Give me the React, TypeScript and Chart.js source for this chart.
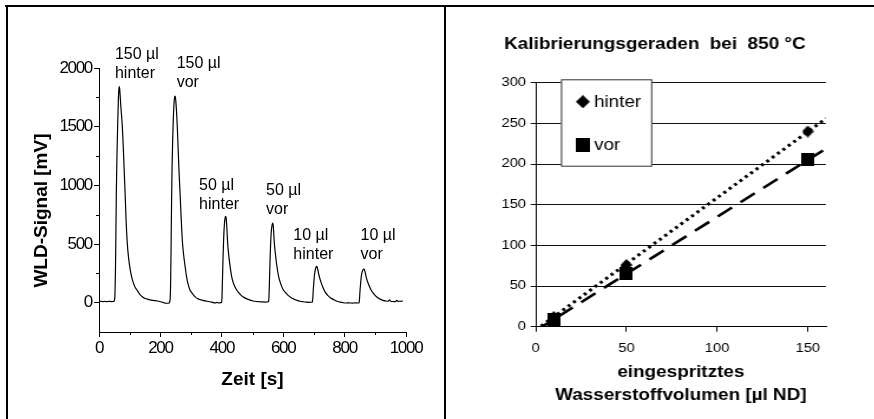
import React, { useEffect, useRef } from "react";
import { Chart, registerables } from "chart.js";

Chart.register(...registerables);

const FONT = "'Liberation Sans', Arial, Helvetica, sans-serif";
const STRETCH = 1.18;

// ---------- left panel: detector trace ----------
const SIGNAL_TIME = [
  0, 5, 10, 15, 20, 25, 30, 35, 40, 45, 49,
  51, 52, 53.5, 55, 56.5, 58, 60, 61.5, 63, 64.5, 66, 67.5, 69, 71, 73, 76, 79, 82, 85, 88, 92, 96, 100, 106, 113, 118, 123, 129, 135, 142, 150, 160, 170, 180, 190, 200, 208, 215, 222, 228,
  230, 232, 233.5, 235, 236.5, 238, 240, 242, 244, 246, 248, 249.5, 251, 253, 255, 258, 261, 264, 268, 272, 276, 280, 285, 290, 296, 302, 308, 315, 323, 332, 342, 352, 362, 370, 378, 385, 390, 396,
  399, 400.5, 402, 404, 406, 408, 410, 412, 414, 416, 419, 422, 426, 432, 438, 443, 448, 455, 463, 472, 482, 492, 502, 512, 522, 532, 542, 550,
  552, 553.5, 555, 557, 559, 561, 563, 565.5, 567.5, 569, 571, 574, 578, 585, 592, 600, 608, 616, 625, 635, 645, 655, 665, 675, 685, 693,
  695, 696.5, 698, 700, 702, 705, 707, 709, 711, 713, 716, 720, 725, 731, 738, 746, 755, 765, 775, 785, 795, 805, 815, 825, 835, 843,
  847, 848.5, 850, 852, 854, 857, 860, 863, 865, 867, 870, 874, 879, 885, 892, 900, 908, 916, 925, 935, 942, 946, 950, 958, 965, 971, 975, 980, 985, 989,
];
const SIGNAL_MV = [
  8, 12, 10, 9, 11, 8, 10, 12, 9, 10, 12,
  30, 70, 250, 580, 937, 1180, 1420, 1580, 1720, 1810, 1842, 1820, 1760, 1680, 1610, 1502, 1330, 1130, 937, 720, 511, 390, 310, 224, 160, 130, 110, 85, 65, 48, 35, 28, 22, 18, 14, 8, 2, -4, -5, -2,
  5, 40, 200, 520, 880, 1150, 1380, 1560, 1680, 1745, 1760, 1740, 1690, 1610, 1502, 1300, 1100, 937, 700, 511, 400, 320, 224, 160, 110, 85, 65, 45, 32, 24, 18, 12, 8, 3, -2, 2, -3, 0,
  2, 40, 180, 380, 540, 650, 710, 735, 725, 660, 511, 420, 330, 224, 165, 135, 110, 85, 62, 45, 32, 22, 14, 10, 8, 6, 5, 6,
  8, 40, 160, 350, 500, 600, 650, 679, 660, 600, 511, 430, 340, 224, 160, 110, 85, 62, 45, 30, 20, 12, 8, 5, 3, 4,
  5, 40, 110, 180, 240, 285, 303, 309, 300, 278, 240, 200, 160, 120, 85, 60, 40, 25, 12, 5, 0, -3, -2, -4, -2, -3,
  -2, 30, 95, 160, 215, 260, 280, 287, 278, 258, 222, 185, 150, 115, 85, 60, 42, 30, 20, 14, 12, 25, 12, 10, 9, 20, 8, 14, 10, 18,
];
const TIME_TICKS = [0, 200, 400, 600, 800, 1000];
const TIME_MINOR_TICKS = [100, 300, 500, 700, 900];
const SIGNAL_TICKS = [0, 500, 1000, 1500, 2000];
const SIGNAL_MINOR_TICKS = [250, 750, 1250, 1750];
const PEAK_VOLUMES = ["150 µl", "150 µl", "50 µl", "50 µl", "10 µl", "10 µl"];
const PEAK_SIDES = ["hinter", "vor", "hinter", "vor", "hinter", "vor"];
const PEAK_LABEL_TIME = [52, 253, 326, 544, 633, 852];
const PEAK_LABEL_MV = [2112, 2036, 997, 954, 571, 571];

// ---------- right panel: calibration ----------
const VOLUME_UL = [10, 50, 150];
const HINTER_VALUES = [12, 76, 240];
const VOR_VALUES = [9, 65, 205];
const TREND_VOLUME = [0, 160];
const HINTER_TREND = [-4, 256];
const VOR_TREND = [-5, 219];
const CAL_Y_TICKS = [0, 50, 100, 150, 200, 250, 300];
const CAL_X_TICKS = [0, 50, 100, 150];

function makeDiamond(w: number, h: number): HTMLCanvasElement {
  const c = document.createElement("canvas");
  c.width = w;
  c.height = h;
  const g = c.getContext("2d")!;
  g.fillStyle = "#000";
  g.beginPath();
  g.moveTo(w / 2, 0);
  g.lineTo(w, h / 2);
  g.lineTo(w / 2, h);
  g.lineTo(0, h / 2);
  g.closePath();
  g.fill();
  return c;
}

function makeSquare(w: number, h: number): HTMLCanvasElement {
  const c = document.createElement("canvas");
  c.width = w;
  c.height = h;
  const g = c.getContext("2d")!;
  g.fillStyle = "#000";
  g.fillRect(0, 0, w, h);
  return c;
}

const leftExtras = {
  id: "leftExtras",
  afterDatasetsDraw(chart: any) {
    // tick labels (z = 1) are drawn right after this hook: make them condensed
    (chart.ctx as any).letterSpacing = "-1.3px";
  },
  afterDraw(chart: any) {
    const { ctx, chartArea, scales } = chart;
    (ctx as any).letterSpacing = "0px";
    const x = scales.x;
    const y = scales.y;
    ctx.save();
    ctx.strokeStyle = "#000";
    ctx.lineWidth = 1;
    ctx.beginPath();
    SIGNAL_MINOR_TICKS.forEach((v) => {
      const py = Math.round(y.getPixelForValue(v)) + 0.5;
      ctx.moveTo(chartArea.left - 3, py);
      ctx.lineTo(chartArea.left, py);
    });
    TIME_MINOR_TICKS.forEach((v) => {
      const px = Math.round(x.getPixelForValue(v)) + 0.5;
      ctx.moveTo(px, chartArea.bottom);
      ctx.lineTo(px, chartArea.bottom + 3);
    });
    ctx.stroke();
    ctx.font = `16px ${FONT}`;
    ctx.fillStyle = "#000";
    ctx.textAlign = "left";
    ctx.textBaseline = "middle";
    PEAK_LABEL_TIME.forEach((t, i) => {
      const px = x.getPixelForValue(t);
      const py = y.getPixelForValue(PEAK_LABEL_MV[i]);
      ctx.fillText(PEAK_VOLUMES[i], px, py);
      ctx.fillText(PEAK_SIDES[i], px, py + 19);
    });
    ctx.restore();
  },
};

const calLegend = {
  id: "calLegend",
  afterDraw(chart: any) {
    const { ctx, chartArea } = chart;
    const left = chartArea.left + 21.4;
    const top = chartArea.top - 3.4;
    const w = 77.4;
    const h = 87.4;
    ctx.save();
    ctx.fillStyle = "#fff";
    ctx.fillRect(left, top, w, h);
    ctx.strokeStyle = "#333";
    ctx.lineWidth = 1;
    ctx.strokeRect(left + 0.5, top + 0.5, w - 1, h - 1);
    const items = chart.data.datasets.filter((d: any) => !d.showLine);
    items.forEach((d: any, i: number) => {
      const cy = top + 22.4 + i * 43.3;
      const img = d.legendMarker as HTMLCanvasElement;
      ctx.drawImage(img, left + 18.6 - img.width / 2, cy - img.height / 2);
      ctx.fillStyle = "#000";
      ctx.font = `16px ${FONT}`;
      ctx.textAlign = "left";
      ctx.textBaseline = "middle";
      ctx.fillText(d.label, left + 28, cy + 1);
    });
    ctx.restore();
  },
};

export default function App() {
  const leftRef = useRef<HTMLCanvasElement>(null);
  const rightRef = useRef<HTMLCanvasElement>(null);

  useEffect(() => {
    Chart.defaults.font.family = FONT;
    Chart.defaults.color = "#000";
    const charts: Chart[] = [];

    if (leftRef.current) {
      charts.push(
        new Chart(leftRef.current, {
          type: "scatter",
          data: {
            datasets: [
              {
                label: "WLD-Signal",
                data: SIGNAL_TIME.map((t, i) => ({ x: t, y: SIGNAL_MV[i] })),
                showLine: true,
                borderColor: "#000",
                borderWidth: 1.2,
                pointRadius: 0,
                cubicInterpolationMode: "monotone",
                fill: false,
              } as any,
            ],
          },
          options: {
            animation: false,
            responsive: false,
            events: [],
            layout: { padding: { left: 0, right: 38, top: 68, bottom: 0 } },
            plugins: { legend: { display: false }, tooltip: { enabled: false }, title: { display: false } },
            scales: {
              x: {
                type: "linear",
                min: 0,
                max: 1000,
                afterBuildTicks: (s: any) => {
                  s.ticks = TIME_TICKS.map((v) => ({ value: v }));
                },
                afterFit: (s: any) => {
                  s.height = 87;
                },
                ticks: {
                  z: 1,
                  color: "#000",
                  font: { family: FONT, size: 17 },
                  padding: 1,
                  maxRotation: 0,
                  autoSkip: false,
                  callback: (v: any) => String(v),
                },
                grid: { display: true, drawOnChartArea: false, drawTicks: true, tickLength: 5, color: "#000", lineWidth: 1 },
                border: { display: true, color: "#000", width: 1 },
                title: {
                  display: true,
                  text: "Zeit [s]",
                  color: "#000",
                  font: { family: FONT, size: 19, weight: "bold" },
                  padding: { top: 0, bottom: 27.6 },
                },
              },
              y: {
                type: "linear",
                min: -250,
                max: 2000,
                afterBuildTicks: (s: any) => {
                  s.ticks = SIGNAL_TICKS.map((v) => ({ value: v }));
                },
                afterFit: (s: any) => {
                  s.width = 99;
                },
                ticks: {
                  z: 1,
                  color: "#000",
                  font: { family: FONT, size: 17 },
                  padding: 2,
                  autoSkip: false,
                  callback: (v: any) => String(v),
                },
                grid: { display: true, drawOnChartArea: false, drawTicks: true, tickLength: 5, color: "#000", lineWidth: 1 },
                border: { display: true, color: "#000", width: 1 },
                title: {
                  display: true,
                  text: "WLD-Signal [mV]    ",
                  color: "#000",
                  font: { family: FONT, size: 19, weight: "bold" },
                  padding: { top: 30.6, bottom: 0 },
                },
              },
            },
          } as any,
          plugins: [leftExtras],
        })
      );
    }

    if (rightRef.current) {
      const diamond = makeDiamond(10, 12);
      const square = makeSquare(11, 13);
      const legendDiamond = makeDiamond(12, 13);
      const legendSquare = makeSquare(12, 14);
      charts.push(
        new Chart(rightRef.current, {
          type: "scatter",
          data: {
            datasets: [
              {
                label: "hinter",
                data: VOLUME_UL.map((v, i) => ({ x: v, y: HINTER_VALUES[i] })),
                showLine: false,
                pointStyle: diamond,
                legendMarker: legendDiamond,
                pointRadius: 6,
                clip: false,
              } as any,
              {
                label: "vor",
                data: VOLUME_UL.map((v, i) => ({ x: v, y: VOR_VALUES[i] })),
                showLine: false,
                pointStyle: square,
                legendMarker: legendSquare,
                pointRadius: 6,
                clip: false,
              } as any,
              {
                label: "Trend hinter",
                data: TREND_VOLUME.map((v, i) => ({ x: v, y: HINTER_TREND[i] })),
                showLine: true,
                borderColor: "#000",
                borderWidth: 3,
                borderDash: [2.6, 3.4],
                pointRadius: 0,
                clip: 0,
              } as any,
              {
                label: "Trend vor",
                data: TREND_VOLUME.map((v, i) => ({ x: v, y: VOR_TREND[i] })),
                showLine: true,
                borderColor: "#000",
                borderWidth: 2.6,
                borderDash: [15, 9],
                pointRadius: 0,
                clip: 0,
              } as any,
            ],
          },
          options: {
            animation: false,
            responsive: false,
            events: [],
            layout: { padding: 0 },
            plugins: {
              legend: { display: false },
              tooltip: { enabled: false },
              title: {
                display: true,
                text: "Kalibrierungsgeraden  bei  850 °C",
                color: "#000",
                font: { family: FONT, size: 16, weight: "bold" },
                padding: { top: 35.4, bottom: 28.1 },
              },
            },
            scales: {
              x: {
                type: "linear",
                min: 0,
                max: 160,
                afterBuildTicks: (s: any) => {
                  s.ticks = CAL_X_TICKS.map((v) => ({ value: v }));
                },
                afterFit: (s: any) => {
                  s.height = 92.3;
                },
                ticks: {
                  color: "#000",
                  font: { family: FONT, size: 12.5 },
                  padding: 9,
                  maxRotation: 0,
                  autoSkip: false,
                  callback: (v: any) => String(v),
                },
                grid: { display: true, drawOnChartArea: false, drawTicks: true, tickLength: 5, color: "#000", lineWidth: 1 },
                border: { display: true, color: "#000", width: 1 },
                title: {
                  display: true,
                  text: ["eingespritztes", "Wasserstoffvolumen [µl ND]"],
                  color: "#000",
                  font: { family: FONT, size: 16, weight: "bold", lineHeight: 1.406 },
                  padding: { top: 0, bottom: 12.25 },
                },
              },
              y: {
                type: "linear",
                min: 0,
                max: 300,
                afterBuildTicks: (s: any) => {
                  s.ticks = CAL_Y_TICKS.map((v) => ({ value: v }));
                },
                afterFit: (s: any) => {
                  s.width = 76;
                },
                ticks: {
                  color: "#000",
                  font: { family: FONT, size: 12.5 },
                  padding: 4,
                  autoSkip: false,
                  callback: (v: any) => String(v),
                },
                grid: { display: true, drawOnChartArea: true, drawTicks: true, tickLength: 4.2, color: "#111", lineWidth: 1 },
                border: { display: true, color: "#000", width: 1 },
              },
              y2: {
                type: "linear",
                position: "right",
                display: true,
                afterFit: (s: any) => {
                  s.width = 32;
                },
                grid: { display: false },
                ticks: { display: false },
                border: { display: false },
              },
            },
          } as any,
          plugins: [calLegend],
        })
      );
    }

    return () => {
      charts.forEach((c) => c.destroy());
    };
  }, []);

  return (
    <div
      style={{
        position: "absolute",
        left: 0,
        top: 0,
        width: 874,
        height: 419,
        background: "#fff",
        overflow: "hidden",
      }}
    >
      <canvas ref={leftRef} width={444} height={419} style={{ position: "absolute", left: 0, top: 0, display: "block" }} />
      <div
        style={{
          position: "absolute",
          left: 446,
          top: 0,
          width: 354,
          height: 419,
          transform: `scaleX(${STRETCH})`,
          transformOrigin: "0 0",
        }}
      >
        <canvas ref={rightRef} width={354} height={419} style={{ display: "block" }} />
      </div>
      <div style={{ position: "absolute", left: 5, top: 5, width: 869, height: 2, background: "#000" }} />
      <div style={{ position: "absolute", left: 6, top: 5, width: 2, height: 414, background: "#000" }} />
      <div style={{ position: "absolute", left: 444, top: 5, width: 2, height: 414, background: "#000" }} />
    </div>
  );
}
